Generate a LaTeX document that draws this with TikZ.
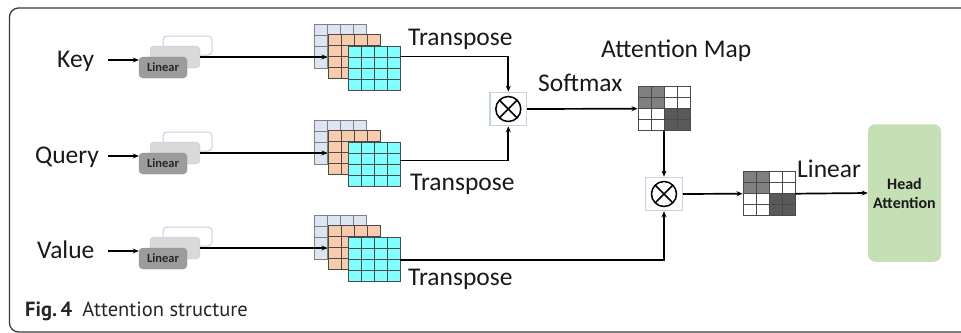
\documentclass[tikz,border=0pt]{standalone}
\usepackage{fontspec}
\setmainfont{Carlito}
\newfontfamily\capfont{PT Sans}
\usetikzlibrary{calc,arrows.meta}
\definecolor{framec}{HTML}{3A3A3A}
\definecolor{lbborder}{HTML}{C3D1E2}
\definecolor{lmid}{HTML}{D9D9D9}
\definecolor{lfront}{HTML}{9C9C9C}
\definecolor{mblue}{HTML}{DCE6F2}
\definecolor{morange}{HTML}{F8CBAD}
\definecolor{mcyan}{HTML}{80FFFF}
\definecolor{gline}{HTML}{4A4A4A}
\definecolor{gback}{HTML}{7F7F7F}
\definecolor{amgray}{HTML}{808080}
\definecolor{amdark}{HTML}{595959}
\definecolor{oborder}{HTML}{C5D3E3}
\definecolor{headg}{HTML}{C5E0B4}
\tikzset{
  lbl/.style={font=\fontsize{25.5}{30}\selectfont, inner sep=0, anchor=base west, text=black!90},
  conn/.style={line width=1.7pt, draw=black},
  arr/.style={conn, -{Stealth[length=6pt,width=5pt]}},
  linback/.style={draw=lbborder, fill=white, rounded corners=4pt, minimum width=49pt, minimum height=19pt, line width=1pt, inner sep=0},
  linmid/.style={fill=lmid, draw=lmid!90!blue, line width=0.4pt, rounded corners=4pt, minimum width=50pt, minimum height=22pt, inner sep=0},
  linfront/.style={fill=lfront, draw=lfront!90!blue, line width=0.4pt, rounded corners=4pt, minimum width=48pt, minimum height=21pt, inner sep=0, font=\fontsize{12.5}{14}\selectfont\bfseries, text=black!85},
  mat/.style 2 args={draw=#2, fill=#1, line width=0.9pt, minimum width=52pt, minimum height=43.3pt, inner sep=0,
    path picture={
      \foreach \t in {0.25,0.5,0.75}{
        \draw[#2, line width=0.9pt] ($(path picture bounding box.south west)!\t!(path picture bounding box.south east)$) -- ($(path picture bounding box.north west)!\t!(path picture bounding box.north east)$);
        \draw[#2, line width=0.9pt] ($(path picture bounding box.south west)!\t!(path picture bounding box.north west)$) -- ($(path picture bounding box.south east)!\t!(path picture bounding box.north east)$);
      }
    }},
  amap/.style={draw=gline, fill=white, line width=0.9pt, minimum width=52pt, minimum height=44pt, inner sep=0,
    path picture={
      \fill[amgray] (path picture bounding box.north west) rectangle (path picture bounding box.center);
      \fill[amdark] (path picture bounding box.center) rectangle (path picture bounding box.south east);
      \foreach \t in {0.25,0.5,0.75}{
        \draw[gline, line width=0.9pt] ($(path picture bounding box.south west)!\t!(path picture bounding box.south east)$) -- ($(path picture bounding box.north west)!\t!(path picture bounding box.north east)$);
        \draw[gline, line width=0.9pt] ($(path picture bounding box.south west)!\t!(path picture bounding box.north west)$) -- ($(path picture bounding box.south east)!\t!(path picture bounding box.north east)$);
      }
    }},
  obox/.style={draw=oborder, fill=white, line width=1.3pt, minimum width=36.5pt, minimum height=33.5pt, inner sep=0,
    path picture={
      \draw[black, line width=1.5pt] (path picture bounding box.center) circle (12.5pt);
      \draw[black, line width=1.5pt] ($(path picture bounding box.center)+(45:12.5pt)$) -- ($(path picture bounding box.center)+(225:12.5pt)$);
      \draw[black, line width=1.5pt] ($(path picture bounding box.center)+(135:12.5pt)$) -- ($(path picture bounding box.center)+(-45:12.5pt)$);
    }},
  headbox/.style={fill=headg, rounded corners=7pt, minimum width=73pt, minimum height=137.5pt, inner sep=0, align=center, font=\fontsize{16}{19}\selectfont\bfseries, text=black!90}
}
\begin{document}
\begin{tikzpicture}[x=1pt, y=-1pt]
\useasboundingbox (0,0) rectangle (961,332);
\clip (0,0) rectangle (961,332);
% frame
\draw[line width=1.3pt, draw=framec, rounded corners=9pt] (9.5,8) rectangle (990,332);

% input labels
\node[lbl] (key) at (57,67.3) {Key};
\node[lbl] (query) at (35,163.3) {Query};
\node[lbl] (value) at (37,258.3) {Value};

% linear stacks and matrices
\foreach \r/\dy in {k/0, q/96, v/191}{
  \node[linback] (\r b) at (187.5,45.5+\dy) {};
  \node[linmid] (\r m) at (175,57+\dy) {};
  \node[linfront] (\r f) at (163,67.5+\dy) {Linear};
  \coordinate (\r in) at (108,60+\dy);
  \node[mat={mblue}{gback}] (\r mb) at (340,46.3+\dy) {};
  \node[mat={morange}{gline}] (\r mo) at (354,56.4+\dy) {};
  \node[mat={mcyan}{gline}] (\r mc) at (374,68.4+\dy) {};
}

% otimes boxes and maps
\node[obox] (x1) at (508.3,109) {};
\node[obox] (x2) at (664,194) {};
\node[amap] (am) at (664,108.7) {};
\node[amap] (am2) at (769,193.7) {};
\node[headbox] (head) at (904.5,193) {Head\\Attention};

% connectors into matrices
\foreach \r in {k,q,v}{
  \draw[arr] (\r in) -- (\r in -| \r f.west);
  \draw[arr] (\r m.east) -- (\r m.east -| \r mo.west);
}
\coordinate (ko) at ($(kmc.north east)+(0,10.3)$);
\coordinate (qo) at ($(qmc.north east)+(0,18.3)$);
\coordinate (vo) at ($(vmc.north east)+(0,22.6)$);
\draw[arr] (ko) -| (x1.north);
\draw[arr] (qo) -| (x1.south);
\draw[arr] (vo) -| (x2.south);
\draw[arr] (x1.east) -- (am.west);
\draw[arr] (am.south) -- (x2.north);
\draw[arr] (x2.east) -- (am2.west);
\draw[arr] (am2.east) -- (head.west);

% labels
\node[lbl] (t1) at (408,45.5) {Transpose};
\node[lbl] (t2) at (410,190) {Transpose};
\node[lbl] (t3) at (408,285) {Transpose};
\node[lbl] (sm) at (538,91.7) {Softmax};
\node[lbl] (amt) at (601,57.3) {Attention Map};
\node[lbl] (lin) at (797,177.3) {Linear};

% caption
\node[anchor=base west, inner sep=0, font=\capfont\fontsize{20.5}{22}\selectfont, text=black!85] (cap) at (25,316.5) {\textbf{Fig.\,4}\enspace Attention structure};
\end{tikzpicture}
\end{document}
